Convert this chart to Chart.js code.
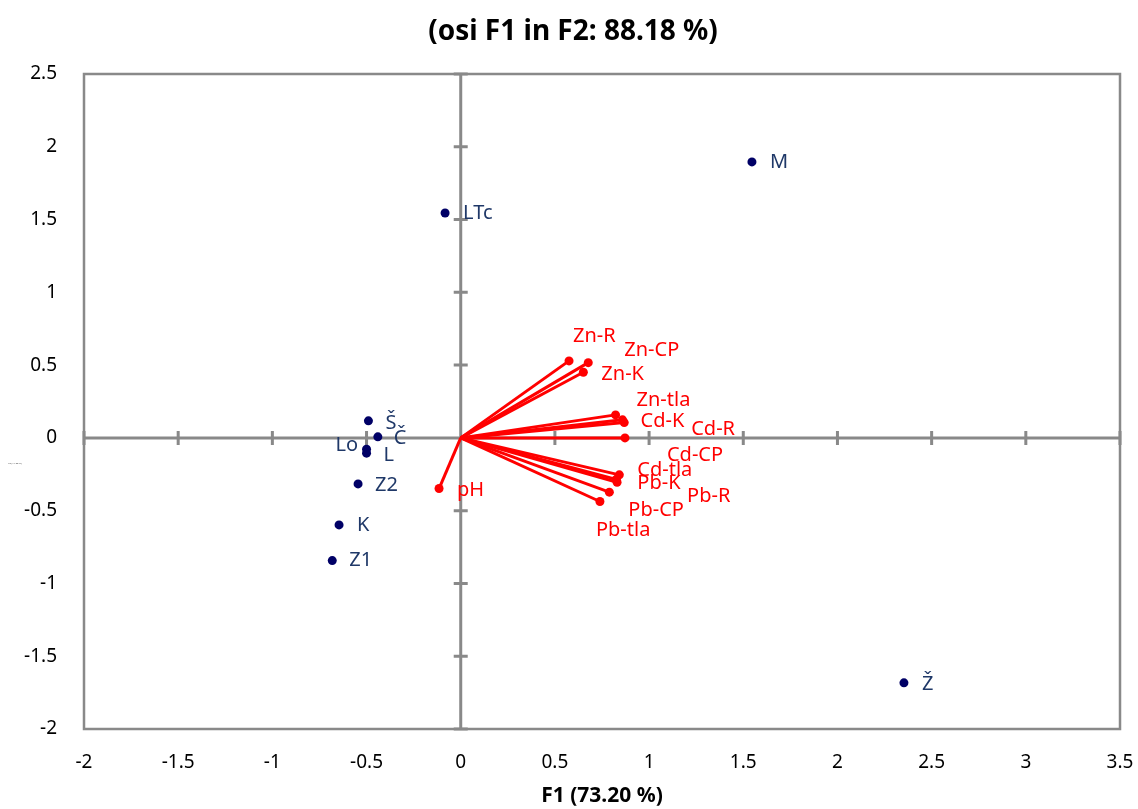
<!DOCTYPE html>
<html>
<head>
<meta charset="utf-8">
<script src="https://cdn.jsdelivr.net/npm/chart.js@4.4.1/dist/chart.umd.min.js"></script>
<style>
  html, body { margin: 0; padding: 0; background: #ffffff; }
  #wrap { width: 1138px; height: 809px; }
</style>
</head>
<body>
<div id="wrap"><canvas id="c" width="1138" height="809"></canvas></div>
<script>
// ---- Data ----
const chartTitle = '(osi F1 in F2: 88.18 %)';
const xAxisTitle = 'F1 (73.20 %)';
const yAxisTitle = 'F2 (14.98 %)';

const xTickValues = [-2, -1.5, -1, -0.5, 0, 0.5, 1, 1.5, 2, 2.5, 3, 3.5];
const yTickValues = [-2, -1.5, -1, -0.5, 0, 0.5, 1, 1.5, 2, 2.5];

// Observations
const obsNames = ['M', 'LTc', 'Š', 'Č', 'Lo', 'L', 'Z2', 'K', 'Z1', 'Ž'];
const obsF1 = [1.546, -0.083, -0.490, -0.440, -0.500, -0.500, -0.545, -0.646, -0.682, 2.353];
const obsF2 = [1.896, 1.545, 0.117, 0.007, -0.078, -0.105, -0.316, -0.598, -0.843, -1.683];

// Variables (vectors)
const varNames = ['Zn-R', 'Zn-CP', 'Zn-K', 'Zn-tla', 'Cd-K', 'Cd-R', 'Cd-CP', 'Cd-tla', 'Pb-K', 'Pb-R', 'Pb-CP', 'Pb-tla', 'pH'];
const varF1 = [0.575, 0.677, 0.651, 0.822, 0.859, 0.868, 0.872, 0.842, 0.826, 0.830, 0.789, 0.739, -0.115];
const varF2 = [0.529, 0.517, 0.451, 0.158, 0.124, 0.105, 0.000, -0.254, -0.285, -0.305, -0.373, -0.437, -0.348];

// ---- Label placement (pixel offsets of label's left edge / middle from its point) ----
const obsLabelOffsets = [[18, 0], [18, 0], [17, 2], [16, 1], [-31, -4], [17, 2], [17, 1], [18, 0], [17, 0], [18, 1]];
const varLabelOffsets = [[4, -25], [36, -12], [18, 2], [21, -15], [18, 1], [67, 7], [42, 17], [18, -5], [21, 4], [70, 14], [19, 18], [-4, 29], [18, 2]];

// ---- Styles ----
const FONT = '"Noto Sans", "Open Sans", sans-serif';
const AXIS_GRAY = '#898989';
const RED = '#ff0000';
const NAVY = '#000066';
const NAVY_TEXT = '#1f3868';

const datasets = [];
varNames.forEach((n, i) => {
  datasets.push({
    label: n,
    data: [{ x: 0, y: 0 }, { x: varF1[i], y: varF2[i] }],
    showLine: true,
    borderColor: RED,
    backgroundColor: RED,
    borderWidth: 3,
    pointRadius: [0, 4.5],
    pointHoverRadius: [0, 4.5],
    pointBorderWidth: 0,
    order: 2
  });
});
datasets.push({
  label: 'obs',
  data: obsF1.map((x, i) => ({ x: x, y: obsF2[i] })),
  showLine: false,
  backgroundColor: NAVY,
  borderColor: NAVY,
  pointRadius: 4.5,
  pointBorderWidth: 0,
  order: 1
});

const axesPlugin = {
  id: 'pcaAxes',
  beforeDatasetsDraw(chart) {
    const { ctx, chartArea: a, scales } = chart;
    const xs = scales.x, ys = scales.y;
    const x0 = xs.getPixelForValue(0), y0 = ys.getPixelForValue(0);
    ctx.save();
    ctx.strokeStyle = AXIS_GRAY;
    ctx.lineWidth = 2.5;
    ctx.strokeRect(a.left, a.top, a.right - a.left, a.bottom - a.top);
    ctx.lineWidth = 3;
    ctx.beginPath();
    ctx.moveTo(a.left, y0); ctx.lineTo(a.right, y0);
    ctx.moveTo(x0, a.top); ctx.lineTo(x0, a.bottom);
    xTickValues.forEach(v => {
      const px = xs.getPixelForValue(v);
      ctx.moveTo(px, y0 - 7); ctx.lineTo(px, y0 + 7);
    });
    yTickValues.forEach(v => {
      const py = ys.getPixelForValue(v);
      ctx.moveTo(x0 - 7, py); ctx.lineTo(x0 + 7, py);
    });
    ctx.stroke();
    ctx.restore();
  },
  afterDatasetsDraw(chart) {
    const { ctx, scales } = chart;
    const xs = scales.x, ys = scales.y;
    ctx.save();
    ctx.textBaseline = 'middle';
    ctx.textAlign = 'left';
    ctx.font = '20px ' + FONT;
    ctx.fillStyle = NAVY_TEXT;
    obsNames.forEach((n, i) => {
      const px = xs.getPixelForValue(obsF1[i]), py = ys.getPixelForValue(obsF2[i]);
      ctx.fillText(n, px + obsLabelOffsets[i][0], py + obsLabelOffsets[i][1]);
    });
    ctx.fillStyle = RED;
    varNames.forEach((n, i) => {
      const px = xs.getPixelForValue(varF1[i]), py = ys.getPixelForValue(varF2[i]);
      ctx.fillText(n, px + varLabelOffsets[i][0], py + varLabelOffsets[i][1]);
    });
    // chart title
    ctx.textAlign = 'center';
    ctx.fillStyle = '#000000';
    ctx.font = 'bold 28px ' + FONT;
    ctx.fillText(chartTitle, 573, 32);
    // tiny y axis title
    ctx.font = '2.4px ' + FONT;
    ctx.fillStyle = '#404040';
    ctx.fillText(yAxisTitle, 15, 463);
    ctx.restore();
  }
};

new Chart(document.getElementById('c'), {
  type: 'scatter',
  data: { datasets: datasets },
  options: {
    responsive: false,
    animation: false,
    layout: { padding: { left: 0, right: 0, top: 74, bottom: 0 } },
    plugins: {
      legend: { display: false },
      title: { display: false },
      tooltip: { enabled: false }
    },
    scales: {
      x: {
        type: 'linear',
        min: -2, max: 3.5,
        afterBuildTicks: s => { s.ticks = xTickValues.map(v => ({ value: v })); },
        afterFit: s => { s.height = 80; s.paddingRight = 18; s.paddingLeft = 0; },
        grid: { display: false, drawTicks: false },
        border: { display: false },
        ticks: {
          autoSkip: false, maxRotation: 0,
          padding: 22,
          color: '#000000',
          font: { family: FONT, size: 19 },
          callback: v => String(v)
        },
        title: {
          display: true, text: xAxisTitle, color: '#000000',
          font: { family: FONT, size: 21, weight: 'bold' },
          padding: { top: 0, bottom: 0 }
        }
      },
      y: {
        type: 'linear',
        min: -2, max: 2.5,
        afterBuildTicks: s => { s.ticks = yTickValues.map(v => ({ value: v })); },
        afterFit: s => { s.width = 84; },
        grid: { display: false, drawTicks: false },
        border: { display: false },
        ticks: {
          autoSkip: false,
          padding: 27,
          color: '#000000',
          font: { family: FONT, size: 19 },
          callback: v => String(v)
        }
      }
    }
  },
  plugins: [axesPlugin]
});
</script>
</body>
</html>
